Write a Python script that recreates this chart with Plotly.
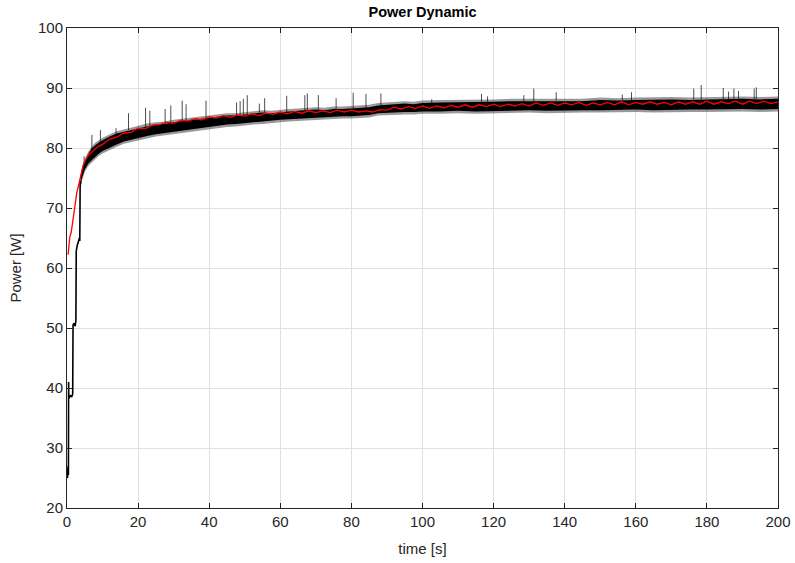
import plotly.graph_objects as go

# ---------------- data ----------------
# start-up staircase of the measured (black) signal
start_t = [0.0, 0.15, 0.3, 0.4, 0.45, 0.5, 0.9, 1.3, 1.6, 1.65, 1.7, 2.0, 2.3, 2.5,
           2.55, 2.6, 2.9, 3.2, 3.5, 3.6, 3.7, 3.8]
start_v = [26.5, 25.0, 27.0, 25.5, 41.0, 38.2, 38.8, 38.5, 39.0, 49.8, 50.5, 50.8,
           50.3, 51.2, 62.0, 62.8, 63.8, 64.3, 65.0, 64.5, 74.5, 74.0]

# envelope of the noisy measured band
band_t = [3.8, 4.2, 5, 6, 7, 8, 9, 10, 12, 14, 16, 18, 20, 22.5, 25, 27.5, 30, 32.5,
          35, 37.5, 40, 42.5, 45, 47.5, 50, 52.5, 55, 57.5, 60, 62.5, 65, 67.5, 70,
          72.5, 75, 77.5, 80, 82.5, 85, 87.5, 90, 92.5, 95, 97.5, 100, 105, 110, 115,
          120, 125, 130, 135, 140, 145, 150, 155, 160, 165, 170, 175, 180, 185, 190,
          195, 200]
outer_hi = [75.5, 76.8, 78.2, 79.4, 80.3, 80.9, 81.3, 81.7, 82.3, 82.8, 83.1, 83.4,
            83.7, 84.1, 84.3, 84.4, 84.7, 84.9, 85.1, 85.2, 85.5, 85.6, 85.8, 85.8,
            86.0, 86.2, 86.3, 86.2, 86.4, 86.5, 86.6, 86.7, 86.8, 86.7, 86.9, 86.9,
            87.0, 87.0, 87.2, 87.5, 87.6, 87.7, 87.8, 87.7, 87.9, 88.0, 88.0, 88.1,
            88.1, 88.2, 88.2, 88.3, 88.3, 88.2, 88.4, 88.3, 88.4, 88.5, 88.5, 88.4,
            88.5, 88.6, 88.6, 88.5, 88.6]
outer_lo = [73.0, 74.5, 76.0, 77.0, 77.6, 78.2, 78.7, 79.1, 79.7, 80.2, 80.7, 81.0,
            81.3, 81.6, 81.9, 82.1, 82.4, 82.5, 82.7, 83.0, 83.2, 83.3, 83.5, 83.6,
            83.8, 83.9, 84.0, 84.2, 84.3, 84.4, 84.5, 84.6, 84.7, 84.7, 84.8, 84.9,
            84.9, 85.0, 85.1, 85.4, 85.5, 85.5, 85.6, 85.6, 85.7, 85.7, 85.8, 85.7,
            85.8, 85.9, 85.9, 85.8, 85.9, 85.9, 85.9, 86.0, 86.0, 85.9, 86.0, 86.0,
            86.0, 86.1, 86.1, 86.0, 86.1]
inner_hi = [75.2, 76.4, 77.8, 79.0, 79.9, 80.5, 80.9, 81.3, 81.9, 82.4, 82.7, 83.0,
            83.3, 83.6, 83.9, 84.0, 84.3, 84.5, 84.7, 84.8, 85.1, 85.2, 85.4, 85.4,
            85.6, 85.8, 85.9, 85.8, 86.0, 86.1, 86.2, 86.3, 86.4, 86.3, 86.5, 86.5,
            86.6, 86.6, 86.8, 87.1, 87.2, 87.3, 87.4, 87.3, 87.5, 87.6, 87.6, 87.7,
            87.7, 87.8, 87.8, 87.9, 87.9, 87.8, 88.0, 87.9, 88.0, 88.1, 88.1, 88.0,
            88.1, 88.2, 88.2, 88.1, 88.2]
inner_lo = [73.4, 74.9, 76.4, 77.4, 78.0, 78.6, 79.1, 79.5, 80.1, 80.6, 81.1, 81.4,
            81.7, 82.0, 82.3, 82.5, 82.8, 82.9, 83.1, 83.4, 83.6, 83.7, 83.9, 84.0,
            84.2, 84.3, 84.4, 84.6, 84.7, 84.8, 84.9, 85.0, 85.1, 85.1, 85.2, 85.3,
            85.3, 85.4, 85.5, 85.8, 85.9, 85.9, 86.0, 86.0, 86.1, 86.1, 86.2, 86.1,
            86.2, 86.3, 86.3, 86.2, 86.3, 86.3, 86.3, 86.4, 86.4, 86.3, 86.4, 86.4,
            86.4, 86.5, 86.5, 86.4, 86.5]

# isolated spikes of the measured signal
spike_t = [4.8, 7.0, 9.4, 13.8, 17.3, 22.1, 23.3, 27.6, 29.2, 32.4, 33.5, 39.1,
           47.7, 48.7, 49.6, 50.7, 54.1, 55.6, 61.8, 66.9, 67.6, 70.7, 75.7, 80.5,
           84.1, 88.3, 102.6, 116.6, 118.3, 128.5, 131.3, 137.6, 156.2, 158.8, 176.3,
           178.4, 184.6, 186.1, 187.6, 188.9, 193.3, 193.9]
spike_peak = [78.6, 82.2, 83.0, 83.3, 85.8, 86.7, 86.2, 86.5, 87.1, 87.9, 87.3,
              87.9, 87.6, 87.8, 88.2, 88.8, 87.4, 88.3, 88.7, 88.8, 89.1, 88.8, 88.3,
              89.2, 89.0, 89.1, 88.1, 89.0, 88.6, 88.8, 89.9, 89.3, 88.9, 89.3, 89.9,
              90.5, 90.0, 89.4, 89.9, 89.5, 89.9, 90.1]
spike_base = [77.0, 79.5, 80.8, 82.0, 83.0, 83.5, 83.6, 84.0, 84.2, 84.5, 84.6,
              85.0, 85.5, 85.5, 85.6, 85.6, 85.8, 85.9, 86.0, 86.2, 86.2, 86.4, 86.5,
              86.6, 86.7, 87.0, 87.5, 87.6, 87.7, 87.8, 87.8, 87.9, 88.0, 88.0, 88.1,
              88.1, 88.1, 88.1, 88.1, 88.2, 88.2, 88.2]

# filtered / estimated (red) signal
red_t = [0.3, 0.8, 1.2, 1.6, 2.2, 2.7, 3.2, 3.8, 4.6, 6.0, 7.4, 8.6,
         10, 12, 14, 16, 18, 20, 22, 24, 26, 28, 30, 32, 34, 36, 38, 40, 42, 44, 46,
         48, 50, 52, 54, 56, 58, 60, 62, 64, 66, 68, 70, 72, 74, 76, 78, 80, 82, 84,
         86, 88, 90, 92, 94, 96, 98, 100, 102, 104, 106, 108, 110, 112, 114, 116, 118,
         120, 122, 124, 126, 128, 130, 132, 134, 136, 138, 140, 142, 144, 146, 148,
         150, 152, 154, 156, 158, 160, 162, 164, 166, 168, 170, 172, 174, 176, 178,
         180, 182, 184, 186, 188, 190, 192, 194, 196, 198, 200]
red_v = [62.2, 65.2, 66.0, 68.0, 70.2, 72.4, 73.6, 75.2, 77.2, 78.8, 79.6, 80.2,
         80.6, 81.5, 81.8, 82.5, 82.6, 83.3, 83.2, 83.8, 83.9, 84.3, 84.1, 84.6, 84.5,
         84.9, 84.7, 85.2, 85.0, 85.4, 85.1, 85.5, 85.3, 85.7, 85.4, 85.8, 85.6, 86.0,
         85.7, 86.1, 85.8, 86.2, 85.9, 86.2, 85.9, 86.3, 86.0, 86.3, 86.0, 86.2, 86.0,
         86.4, 86.3, 86.8, 86.5, 86.9, 86.6, 87.0, 86.6, 87.0, 86.7, 87.1, 86.8, 87.2,
         86.8, 87.2, 86.9, 87.3, 86.9, 87.3, 87.0, 87.4, 87.0, 87.5, 87.1, 87.5, 87.1,
         87.5, 87.2, 87.6, 87.1, 87.5, 87.2, 87.6, 87.2, 87.7, 87.2, 87.6, 87.3, 87.7,
         87.3, 87.6, 87.2, 87.7, 87.3, 87.7, 87.3, 87.8, 87.3, 87.7, 87.4, 87.8, 87.3,
         87.8, 87.4, 87.8, 87.4, 87.7]

x_ticks = [0, 20, 40, 60, 80, 100, 120, 140, 160, 180, 200]
y_ticks = [20, 30, 40, 50, 60, 70, 80, 90, 100]

# ---------------- figure ----------------
fig = go.Figure()

# spikes
sx, sy = [], []
for t, b, p in zip(spike_t, spike_base, spike_peak):
    sx += [t, t, None]
    sy += [b, p, None]
fig.add_trace(go.Scatter(x=sx, y=sy, mode="lines",
                         line=dict(color="rgba(0,0,0,0.7)", width=1),
                         hoverinfo="skip", showlegend=False))

# outer (fringe) band
fig.add_trace(go.Scatter(x=band_t, y=outer_hi, mode="lines", line=dict(width=0),
                         showlegend=False, hoverinfo="skip"))
fig.add_trace(go.Scatter(x=band_t, y=outer_lo, mode="lines", line=dict(width=0),
                         fill="tonexty", fillcolor="rgba(0,0,0,0.4)",
                         showlegend=False, hoverinfo="skip"))
# inner (dense) band
fig.add_trace(go.Scatter(x=band_t, y=inner_hi, mode="lines", line=dict(width=0),
                         showlegend=False, hoverinfo="skip"))
fig.add_trace(go.Scatter(x=band_t, y=inner_lo, mode="lines", line=dict(width=0),
                         fill="tonexty", fillcolor="black",
                         showlegend=False, hoverinfo="skip"))

# start-up staircase
fig.add_trace(go.Scatter(x=start_t, y=start_v, mode="lines",
                         line=dict(color="black", width=1.6),
                         showlegend=False, hoverinfo="skip"))

# red estimate
fig.add_trace(go.Scatter(x=red_t, y=red_v, mode="lines",
                         line=dict(color="#ff0000", width=1.3),
                         showlegend=False))

FONT = "Liberation Sans, Arial"
axis_common = dict(showline=True, linecolor="#262626", linewidth=1, mirror="ticks",
                   ticks="inside", ticklen=5, tickcolor="#262626", automargin=False,
                   showgrid=True, gridcolor="#dfdfdf", gridwidth=1, zeroline=False,
                   tickfont=dict(family=FONT, size=15, color="#262626"))

fig.update_layout(
    width=795, height=563,
    margin=dict(l=67, r=17, t=28, b=55),
    paper_bgcolor="white", plot_bgcolor="white",
    title=dict(text="<b>Power Dynamic</b>", x=0.5315, xanchor="center",
               y=1 - 12 / 563, yanchor="middle",
               font=dict(family=FONT, size=14.5, color="black")),
    xaxis=dict(range=[0, 200], tickvals=x_ticks,
               title=dict(text="time [s]", standoff=14,
                          font=dict(family=FONT, size=15, color="#262626")),
               **axis_common),
    yaxis=dict(range=[20, 100], tickvals=y_ticks,
               title=dict(text="Power [W]", standoff=12,
                          font=dict(family=FONT, size=15, color="#262626")),
               **axis_common),
)

fig.write_html("out.html",
               config={"displayModeBar": False},
               post_script="document.body.style.margin='0px';"
                           "document.body.style.overflow='hidden';")
